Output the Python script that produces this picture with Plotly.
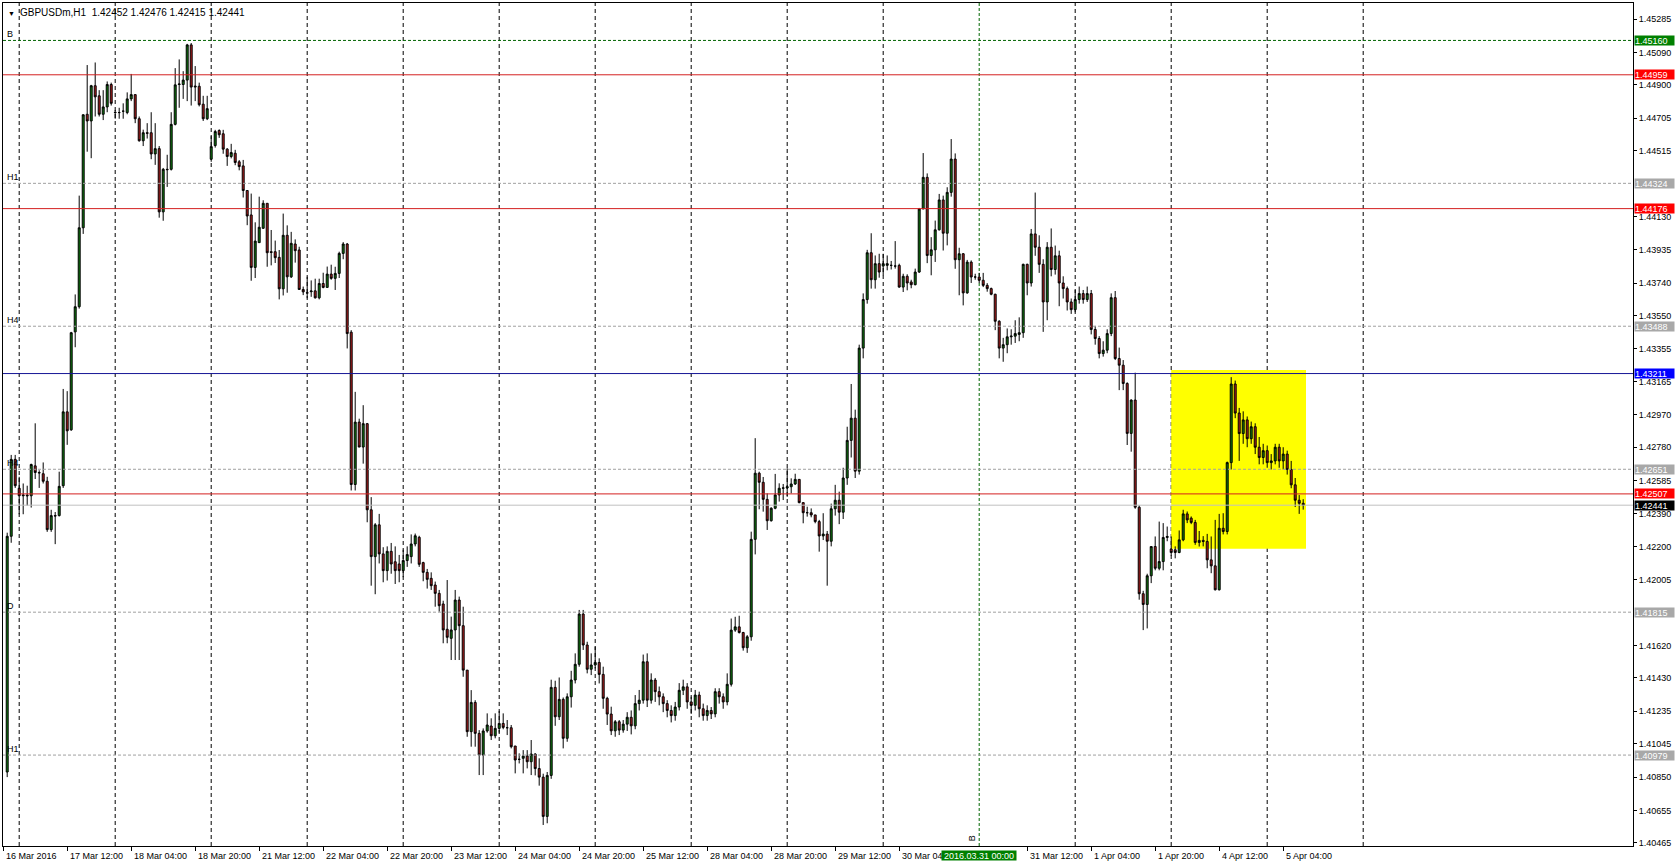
import plotly.graph_objects as go

header_symbol = "GBPUSDm,H1"
header_ohlc = "1.42452 1.42476 1.42415 1.42441"

# ---- hourly OHLC, bar 0 = 16 Mar 2016 21:00 (broker time) ----
opens = [
1.40880, 1.42259, 1.42709, 1.42540, 1.42496, 1.42500, 1.42496, 1.42671, 1.42632, 1.42625,
1.42581, 1.42298, 1.42380, 1.42380, 1.42555, 1.42987, 1.42882, 1.43455, 1.43602, 1.44064,
1.44728, 1.44689, 1.44895, 1.44836, 1.44728, 1.44771, 1.44902, 1.44740, 1.44738, 1.44746,
1.44738, 1.44818, 1.44843, 1.44702, 1.44573, 1.44620, 1.44620, 1.44496, 1.44527, 1.44157,
1.44406, 1.44406, 1.44669, 1.44902, 1.44902, 1.44928, 1.45134, 1.44887, 1.44892, 1.44787,
1.44702, 1.44465, 1.44545, 1.44633, 1.44614, 1.44524, 1.44481, 1.44500, 1.44450, 1.44426,
1.44282, 1.44139, 1.43832, 1.43977, 1.44061, 1.44207, 1.43924, 1.43924, 1.43891, 1.43707,
1.44020, 1.43777, 1.43969, 1.43934, 1.43703, 1.43684, 1.43690, 1.43695, 1.43654, 1.43738,
1.43715, 1.43793, 1.43768, 1.43797, 1.43914, 1.43969, 1.43453, 1.42562, 1.42927, 1.42781,
1.42918, 1.42414, 1.42140, 1.42326, 1.42156, 1.42058, 1.42171, 1.42110, 1.42097, 1.42058,
1.42117, 1.42140, 1.42214, 1.42253, 1.42105, 1.42048, 1.42013, 1.41974, 1.41925, 1.41863,
1.41715, 1.41662, 1.41711, 1.41886, 1.41736, 1.41476, 1.41116, 1.41287, 1.41106, 1.40979,
1.41120, 1.41149, 1.41092, 1.41135, 1.41164, 1.41139, 1.41139, 1.41032, 1.40954, 1.40960,
1.40973, 1.40940, 1.40985, 1.40900, 1.40850, 1.40620, 1.40860, 1.41375, 1.41203, 1.41305,
1.41077, 1.41320, 1.41418, 1.41510, 1.41804, 1.41623, 1.41481, 1.41506, 1.41521, 1.41451,
1.41311, 1.41219, 1.41121, 1.41174, 1.41125, 1.41160, 1.41200, 1.41150, 1.41280, 1.41300,
1.41525, 1.41300, 1.41418, 1.41350, 1.41320, 1.41280, 1.41240, 1.41210, 1.41260, 1.41358,
1.41378, 1.41290, 1.41270, 1.41330, 1.41250, 1.41210, 1.41240, 1.41220, 1.41350, 1.41320,
1.41290, 1.41393, 1.41710, 1.41729, 1.41696, 1.41607, 1.41671, 1.42241, 1.42628, 1.42575,
1.42475, 1.42350, 1.42423, 1.42501, 1.42540, 1.42542, 1.42549, 1.42565, 1.42592, 1.42456,
1.42397, 1.42397, 1.42384, 1.42345, 1.42261, 1.42272, 1.42230, 1.42420, 1.42470, 1.42400,
1.42600, 1.42820, 1.42950, 1.42640, 1.43360, 1.43644, 1.43918, 1.43760, 1.43854, 1.43840,
1.43844, 1.43844, 1.43840, 1.43844, 1.43717, 1.43780, 1.43747, 1.43731, 1.43805, 1.44174,
1.44359, 1.43902, 1.43935, 1.44052, 1.44227, 1.44032, 1.44271, 1.44466, 1.43877, 1.43912,
1.43683, 1.43863, 1.43776, 1.43776, 1.43757, 1.43727, 1.43708, 1.43675, 1.43517, 1.43360,
1.43380, 1.43426, 1.43430, 1.43440, 1.43450, 1.43850, 1.43741, 1.44028, 1.43950, 1.43850,
1.43630, 1.43950, 1.43820, 1.43900, 1.43741, 1.43708, 1.43630, 1.43585, 1.43644, 1.43679,
1.43644, 1.43679, 1.43469, 1.43416, 1.43328, 1.43348, 1.43445, 1.43655, 1.43299, 1.43260,
1.43153, 1.42861, 1.43056, 1.42429, 1.41923, 1.41860, 1.42028, 1.42199, 1.42072, 1.42111,
1.42252, 1.42184, 1.42180, 1.42164, 1.42238, 1.42390, 1.42365, 1.42340, 1.42223, 1.42235,
1.42229, 1.42121, 1.42086, 1.41946, 1.42306, 1.42287, 1.42690, 1.43150, 1.42980, 1.42860,
1.42940, 1.42830, 1.42900, 1.42780, 1.42720, 1.42760, 1.42690, 1.42700, 1.42780, 1.42700,
1.42740, 1.42650, 1.42560, 1.42470, 1.42452,
]

highs = [
1.42280, 1.42735, 1.42735, 1.42607, 1.42568, 1.42555, 1.42684, 1.42920, 1.42645, 1.42691,
1.42607, 1.42414, 1.42401, 1.42637, 1.43121, 1.43108, 1.43455, 1.43674, 1.44252, 1.44728,
1.45016, 1.44900, 1.45031, 1.44869, 1.44869, 1.44920, 1.44913, 1.44753, 1.44766, 1.44792,
1.44856, 1.44964, 1.44843, 1.44715, 1.44638, 1.44676, 1.44740, 1.44676, 1.44542, 1.44414,
1.44491, 1.44740, 1.44998, 1.45049, 1.44980, 1.45140, 1.45145, 1.45010, 1.44913, 1.44836,
1.44836, 1.44600, 1.44637, 1.44640, 1.44637, 1.44530, 1.44555, 1.44520, 1.44460, 1.44461,
1.44282, 1.44264, 1.44096, 1.44246, 1.44225, 1.44207, 1.44051, 1.43989, 1.43934, 1.44147,
1.44078, 1.44040, 1.43996, 1.43953, 1.43720, 1.43777, 1.43756, 1.43766, 1.43766, 1.43801,
1.43837, 1.43848, 1.43836, 1.43924, 1.43980, 1.43975, 1.43465, 1.43104, 1.42947, 1.43026,
1.42922, 1.42488, 1.42336, 1.42390, 1.42195, 1.42200, 1.42220, 1.42200, 1.42150, 1.42180,
1.42200, 1.42270, 1.42275, 1.42262, 1.42110, 1.42068, 1.42048, 1.41994, 1.41945, 1.41882,
1.42003, 1.41789, 1.41945, 1.41906, 1.41847, 1.41476, 1.41359, 1.41300, 1.41125, 1.41135,
1.41223, 1.41194, 1.41223, 1.41237, 1.41223, 1.41184, 1.41155, 1.41032, 1.40989, 1.41008,
1.41008, 1.41067, 1.40990, 1.40960, 1.40870, 1.40880, 1.41420, 1.41414, 1.41433, 1.41316,
1.41340, 1.41472, 1.41574, 1.41828, 1.41828, 1.41642, 1.41574, 1.41613, 1.41545, 1.41496,
1.41320, 1.41262, 1.41184, 1.41184, 1.41184, 1.41230, 1.41240, 1.41330, 1.41360, 1.41567,
1.41574, 1.41457, 1.41430, 1.41380, 1.41340, 1.41300, 1.41270, 1.41290, 1.41400, 1.41420,
1.41400, 1.41320, 1.41360, 1.41350, 1.41280, 1.41270, 1.41260, 1.41370, 1.41370, 1.41340,
1.41457, 1.41778, 1.41788, 1.41794, 1.41700, 1.41681, 1.42286, 1.42833, 1.42637, 1.42606,
1.42510, 1.42429, 1.42624, 1.42569, 1.42565, 1.42657, 1.42598, 1.42625, 1.42592, 1.42456,
1.42432, 1.42422, 1.42384, 1.42355, 1.42394, 1.42290, 1.42450, 1.42560, 1.42520, 1.42660,
1.42900, 1.43150, 1.43000, 1.43380, 1.43680, 1.43935, 1.44032, 1.43902, 1.43912, 1.43912,
1.43902, 1.43870, 1.43986, 1.43854, 1.43795, 1.43792, 1.43760, 1.43825, 1.44180, 1.44501,
1.44382, 1.44009, 1.44106, 1.44262, 1.44252, 1.44301, 1.44583, 1.44499, 1.43947, 1.43916,
1.43876, 1.43873, 1.43795, 1.43800, 1.43800, 1.43740, 1.43714, 1.43678, 1.43523, 1.43420,
1.43475, 1.43470, 1.43523, 1.43540, 1.43854, 1.43854, 1.44057, 1.44270, 1.44020, 1.43880,
1.43980, 1.44060, 1.43960, 1.43930, 1.43780, 1.43720, 1.43650, 1.43700, 1.43720, 1.43700,
1.43720, 1.43700, 1.43490, 1.43430, 1.43400, 1.43470, 1.43680, 1.43694, 1.43363, 1.43290,
1.43160, 1.43060, 1.43216, 1.42440, 1.41940, 1.42040, 1.42199, 1.42258, 1.42345, 1.42336,
1.42316, 1.42258, 1.42200, 1.42293, 1.42414, 1.42404, 1.42375, 1.42355, 1.42290, 1.42260,
1.42273, 1.42258, 1.42355, 1.42390, 1.42394, 1.42696, 1.43190, 1.43170, 1.43010, 1.42990,
1.42960, 1.42930, 1.42920, 1.42840, 1.42800, 1.42790, 1.42740, 1.42800, 1.42800, 1.42780,
1.42760, 1.42700, 1.42600, 1.42500, 1.42476,
]

lows = [
1.40850, 1.42221, 1.42542, 1.42388, 1.42388, 1.42439, 1.42427, 1.42594, 1.42542, 1.42568,
1.42285, 1.42285, 1.42213, 1.42375, 1.42542, 1.42794, 1.42876, 1.43365, 1.43591, 1.44028,
1.44509, 1.44471, 1.44715, 1.44715, 1.44694, 1.44740, 1.44779, 1.44702, 1.44702, 1.44702,
1.44728, 1.44805, 1.44676, 1.44568, 1.44542, 1.44586, 1.44465, 1.44432, 1.44123, 1.44105,
1.44303, 1.44399, 1.44663, 1.44766, 1.44818, 1.44805, 1.44779, 1.44805, 1.44774, 1.44689,
1.44694, 1.44450, 1.44533, 1.44590, 1.44497, 1.44426, 1.44470, 1.44430, 1.44400, 1.44241,
1.44079, 1.43754, 1.43770, 1.43977, 1.44057, 1.43836, 1.43844, 1.43858, 1.43645, 1.43668,
1.43684, 1.43770, 1.43860, 1.43700, 1.43670, 1.43652, 1.43660, 1.43650, 1.43645, 1.43710,
1.43715, 1.43760, 1.43700, 1.43770, 1.43880, 1.43358, 1.42527, 1.42527, 1.42781, 1.42684,
1.42341, 1.41970, 1.41920, 1.42100, 1.41990, 1.42000, 1.42040, 1.41980, 1.41990, 1.42020,
1.42080, 1.42100, 1.42200, 1.42080, 1.41996, 1.41953, 1.41945, 1.41847, 1.41818, 1.41633,
1.41633, 1.41535, 1.41535, 1.41535, 1.41437, 1.41086, 1.41028, 1.41028, 1.40862, 1.40862,
1.41110, 1.41067, 1.41077, 1.41110, 1.41130, 1.41096, 1.41018, 1.40872, 1.40930, 1.40872,
1.40901, 1.40862, 1.40860, 1.40800, 1.40570, 1.40580, 1.40840, 1.41150, 1.41184, 1.41018,
1.41057, 1.41257, 1.41398, 1.41496, 1.41594, 1.41457, 1.41447, 1.41486, 1.41398, 1.41250,
1.41155, 1.41096, 1.41086, 1.41096, 1.41110, 1.41120, 1.41100, 1.41130, 1.41240, 1.41280,
1.41260, 1.41280, 1.41290, 1.41270, 1.41230, 1.41200, 1.41170, 1.41180, 1.41240, 1.41330,
1.41250, 1.41220, 1.41240, 1.41200, 1.41180, 1.41180, 1.41190, 1.41200, 1.41280, 1.41250,
1.41270, 1.41380, 1.41700, 1.41690, 1.41590, 1.41577, 1.41648, 1.42153, 1.42417, 1.42403,
1.42296, 1.42345, 1.42417, 1.42462, 1.42471, 1.42490, 1.42510, 1.42559, 1.42452, 1.42335,
1.42374, 1.42370, 1.42335, 1.42169, 1.42237, 1.41970, 1.42200, 1.42380, 1.42330, 1.42360,
1.42560, 1.42720, 1.42600, 1.42620, 1.43300, 1.43620, 1.43708, 1.43708, 1.43772, 1.43786,
1.43815, 1.43820, 1.43825, 1.43713, 1.43688, 1.43698, 1.43710, 1.43727, 1.43800, 1.44174,
1.43857, 1.43786, 1.43864, 1.44048, 1.43931, 1.43961, 1.44246, 1.43824, 1.43669, 1.43610,
1.43678, 1.43741, 1.43760, 1.43740, 1.43717, 1.43690, 1.43669, 1.43465, 1.43300, 1.43280,
1.43330, 1.43380, 1.43390, 1.43400, 1.43420, 1.43669, 1.43720, 1.43900, 1.43800, 1.43455,
1.43523, 1.43780, 1.43790, 1.43605, 1.43650, 1.43580, 1.43560, 1.43570, 1.43620, 1.43620,
1.43630, 1.43440, 1.43380, 1.43300, 1.43310, 1.43330, 1.43430, 1.43290, 1.43114, 1.43114,
1.42793, 1.42754, 1.42420, 1.41888, 1.41710, 1.41720, 1.41985, 1.42060, 1.42060, 1.42060,
1.42230, 1.42145, 1.42130, 1.42160, 1.42230, 1.42336, 1.42330, 1.42209, 1.42199, 1.42200,
1.42072, 1.42043, 1.41942, 1.41942, 1.42270, 1.42270, 1.42650, 1.42950, 1.42700, 1.42800,
1.42780, 1.42800, 1.42740, 1.42680, 1.42680, 1.42660, 1.42650, 1.42680, 1.42660, 1.42650,
1.42620, 1.42540, 1.42430, 1.42390, 1.42415,
]

closes = [
1.42259, 1.42709, 1.42555, 1.42496, 1.42500, 1.42496, 1.42679, 1.42632, 1.42630, 1.42581,
1.42298, 1.42380, 1.42378, 1.42551, 1.42987, 1.42876, 1.43450, 1.43602, 1.44064, 1.44725,
1.44689, 1.44895, 1.44830, 1.44728, 1.44771, 1.44902, 1.44792, 1.44738, 1.44738, 1.44746,
1.44818, 1.44843, 1.44702, 1.44573, 1.44620, 1.44617, 1.44496, 1.44527, 1.44157, 1.44406,
1.44404, 1.44669, 1.44900, 1.44905, 1.44928, 1.45134, 1.44887, 1.44892, 1.44784, 1.44702,
1.44761, 1.44539, 1.44627, 1.44608, 1.44524, 1.44481, 1.44504, 1.44446, 1.44422, 1.44282,
1.44133, 1.43832, 1.43986, 1.44067, 1.44207, 1.43918, 1.43920, 1.43889, 1.43707, 1.44020,
1.43777, 1.43973, 1.43930, 1.43703, 1.43689, 1.43682, 1.43694, 1.43654, 1.43738, 1.43715,
1.43793, 1.43768, 1.43797, 1.43914, 1.43969, 1.43445, 1.42562, 1.42927, 1.42781, 1.42918,
1.42414, 1.42140, 1.42326, 1.42156, 1.42058, 1.42171, 1.42097, 1.42058, 1.42058, 1.42117,
1.42152, 1.42214, 1.42262, 1.42095, 1.42048, 1.42007, 1.41970, 1.41925, 1.41853, 1.41711,
1.41668, 1.41711, 1.41886, 1.41736, 1.41476, 1.41116, 1.41287, 1.41106, 1.40979, 1.41120,
1.41155, 1.41092, 1.41135, 1.41164, 1.41141, 1.41139, 1.41028, 1.40950, 1.40954, 1.40973,
1.40940, 1.40985, 1.40900, 1.40850, 1.40620, 1.40860, 1.41375, 1.41203, 1.41305, 1.41077,
1.41320, 1.41418, 1.41510, 1.41804, 1.41623, 1.41481, 1.41506, 1.41521, 1.41451, 1.41311,
1.41219, 1.41121, 1.41174, 1.41125, 1.41160, 1.41200, 1.41150, 1.41280, 1.41300, 1.41525,
1.41300, 1.41418, 1.41350, 1.41320, 1.41280, 1.41240, 1.41210, 1.41260, 1.41358, 1.41378,
1.41290, 1.41270, 1.41330, 1.41250, 1.41210, 1.41240, 1.41220, 1.41350, 1.41320, 1.41290,
1.41393, 1.41710, 1.41729, 1.41696, 1.41607, 1.41671, 1.42241, 1.42628, 1.42575, 1.42475,
1.42350, 1.42423, 1.42501, 1.42540, 1.42542, 1.42549, 1.42565, 1.42592, 1.42456, 1.42397,
1.42397, 1.42384, 1.42345, 1.42261, 1.42272, 1.42230, 1.42420, 1.42470, 1.42400, 1.42600,
1.42820, 1.42950, 1.42640, 1.43360, 1.43644, 1.43918, 1.43760, 1.43854, 1.43805, 1.43854,
1.43854, 1.43844, 1.43840, 1.43717, 1.43780, 1.43741, 1.43731, 1.43805, 1.44174, 1.44359,
1.43902, 1.43935, 1.44052, 1.44227, 1.44032, 1.44271, 1.44466, 1.43877, 1.43912, 1.43683,
1.43863, 1.43776, 1.43776, 1.43757, 1.43727, 1.43708, 1.43675, 1.43517, 1.43360, 1.43380,
1.43426, 1.43430, 1.43445, 1.43450, 1.43850, 1.43741, 1.44028, 1.43950, 1.43850, 1.43630,
1.43950, 1.43820, 1.43900, 1.43741, 1.43708, 1.43630, 1.43585, 1.43644, 1.43679, 1.43644,
1.43679, 1.43469, 1.43416, 1.43328, 1.43348, 1.43445, 1.43655, 1.43299, 1.43260, 1.43153,
1.42861, 1.43056, 1.42429, 1.41923, 1.41860, 1.42028, 1.42199, 1.42072, 1.42111, 1.42252,
1.42258, 1.42164, 1.42164, 1.42238, 1.42390, 1.42355, 1.42340, 1.42223, 1.42235, 1.42229,
1.42121, 1.42086, 1.41946, 1.42306, 1.42287, 1.42690, 1.43150, 1.42980, 1.42860, 1.42940,
1.42830, 1.42900, 1.42780, 1.42720, 1.42760, 1.42690, 1.42700, 1.42780, 1.42700, 1.42740,
1.42650, 1.42560, 1.42470, 1.42452, 1.42441,
]

assert len(opens) == len(highs) == len(lows) == len(closes), (len(opens), len(highs), len(lows), len(closes))
bar_index = list(range(len(opens)))

# ---- time scale ----
time_tick_bars = [-1, 15, 31, 47, 63, 79, 95, 111, 127, 143, 159, 175, 191, 207, 223,
                  255, 271, 287, 303, 319]
time_tick_labels = ["16 Mar 2016", "17 Mar 12:00", "18 Mar 04:00", "18 Mar 20:00",
                    "21 Mar 12:00", "22 Mar 04:00", "22 Mar 20:00", "23 Mar 12:00",
                    "24 Mar 04:00", "24 Mar 20:00", "25 Mar 12:00", "28 Mar 04:00",
                    "28 Mar 20:00", "29 Mar 12:00", "30 Mar 04", "31 Mar 12:00",
                    "1 Apr 04:00", "1 Apr 20:00", "4 Apr 12:00", "5 Apr 04:00"]
day_separator_bars = [3, 27, 51, 75, 99, 123, 147, 171, 195, 219, 267, 291, 315, 339]
marked_bar = 243
marked_label = "2016.03.31 00:00"

# ---- price scale ----
price_ticks = [1.45285, 1.45090, 1.44900, 1.44705, 1.44515, 1.44130, 1.43935, 1.43740,
               1.43550, 1.43355, 1.43165, 1.42970, 1.42780, 1.42585, 1.42390, 1.42200,
               1.42005, 1.41620, 1.41430, 1.41235, 1.41045, 1.40850, 1.40655, 1.40465]

# ---- horizontal levels ----
level_prices = [1.45160, 1.44959, 1.44324, 1.44176, 1.43488, 1.43211, 1.42651, 1.42507,
                1.42441, 1.41815, 1.40979]
level_names = ["B", "", "H1", "", "H4", "", "H4", "", "", "D", "H1"]
level_line_colors = ["#006400", "#D42020", "#A0A0A0", "#D42020", "#A0A0A0", "#161696",
                     "#A0A0A0", "#D42020", "#C0C0C0", "#A0A0A0", "#A0A0A0"]
level_dashes = ["3px,2px", "solid", "3px,2px", "solid", "3px,2px", "solid", "3px,2px",
                "solid", "solid", "3px,2px", "3px,2px"]
level_box_colors = ["#008000", "#FF0000", "#A8A8A8", "#FF0000", "#A8A8A8", "#0000FF",
                    "#A8A8A8", "#FF0000", "#000000", "#A8A8A8", "#A8A8A8"]

# ---- highlighted zone ----
zone_bars = [291, 324.7]
zone_prices = [1.42186, 1.43232]

FONT = "Liberation Sans, Arial, sans-serif"

fig = go.Figure()
fig.add_trace(go.Candlestick(
    x=bar_index, open=opens, high=highs, low=lows, close=closes,
    increasing=dict(line=dict(color="#000000", width=1), fillcolor="#0E7A0E"),
    decreasing=dict(line=dict(color="#000000", width=1), fillcolor="#B21E1E"),
    whiskerwidth=0, hoverinfo="skip", showlegend=False,
))

shapes = []
shapes.append(dict(type="rect", xref="x", yref="y", x0=zone_bars[0], x1=zone_bars[1],
                   y0=zone_prices[0], y1=zone_prices[1], fillcolor="#FFFF00",
                   line=dict(width=0), layer="below"))
for b in day_separator_bars:
    shapes.append(dict(type="line", xref="x", yref="paper", x0=b, x1=b, y0=0, y1=1,
                       line=dict(color="#000000", width=1, dash="4px,3px"), layer="below"))
shapes.append(dict(type="line", xref="x", yref="paper", x0=marked_bar, x1=marked_bar, y0=0, y1=1,
                   line=dict(color="#006400", width=1, dash="3px,2px"), layer="below"))
for p, c, d in zip(level_prices, level_line_colors, level_dashes):
    shapes.append(dict(type="line", xref="paper", yref="y", x0=0, x1=1, y0=p, y1=p,
                       line=dict(color=c, width=1, dash=d), layer="above"))

ann = []
# header
ann.append(dict(xref="paper", yref="paper", x=0, y=1, xanchor="left", yanchor="top",
                xshift=3, yshift=-5, text="▼", showarrow=False,
                font=dict(family=FONT, size=7, color="#000000")))
ann.append(dict(xref="paper", yref="paper", x=0, y=1, xanchor="left", yanchor="top",
                xshift=15, yshift=-2, text=header_symbol + "  " + header_ohlc, showarrow=False,
                font=dict(family=FONT, size=10, color="#000000")))
# level names (left) and price boxes (right)
for p, n, bc in zip(level_prices, level_names, level_box_colors):
    if n:
        ann.append(dict(xref="paper", yref="y", x=0, y=p, xanchor="left", yanchor="bottom",
                        xshift=2, yshift=-1, text=n, showarrow=False,
                        font=dict(family=FONT, size=9, color="#000000")))
    ann.append(dict(xref="paper", yref="y", x=1, y=p, xanchor="left", yanchor="middle",
                    xshift=1, text=f"{p:.5f}", showarrow=False, bgcolor=bc,
                    width=39, height=9, align="left", borderpad=0,
                    font=dict(family=FONT, size=9, color="#FFFFFF")))
# time labels
for b, t in zip(time_tick_bars, time_tick_labels):
    ann.append(dict(xref="x", yref="paper", x=b, y=0, xanchor="left", yanchor="top",
                    xshift=1, yshift=-3, text=t, showarrow=False,
                    font=dict(family=FONT, size=9, color="#000000")))
ann.append(dict(xref="x", yref="paper", x=marked_bar, y=0, xanchor="center", yanchor="top",
                yshift=-4, text=marked_label, showarrow=False, bgcolor="#008000",
                width=74, height=9, borderpad=0,
                font=dict(family=FONT, size=9, color="#FFFFFF")))
ann.append(dict(xref="x", yref="paper", x=marked_bar, y=0, xanchor="center", yanchor="bottom",
                xshift=-7, yshift=3, text="B", textangle=-90, showarrow=False,
                font=dict(family=FONT, size=9, color="#000000")))

fig.update_layout(
    width=1676, height=867,
    margin=dict(l=3, r=43, t=3, b=21, pad=0),
    paper_bgcolor="#FFFFFF", plot_bgcolor="#FFFFFF",
    showlegend=False,
    shapes=shapes, annotations=ann,
    xaxis=dict(range=[-1.05, 406.45], rangeslider=dict(visible=False), showgrid=False,
               zeroline=False, showline=True, linecolor="#000000", linewidth=1, mirror=True,
               tickmode="array", tickvals=time_tick_bars, ticks="outside", ticklen=4,
               tickcolor="#000000", showticklabels=False, fixedrange=True),
    yaxis=dict(range=[1.40447, 1.45379], side="right", showgrid=False, zeroline=False,
               showline=True, linecolor="#000000", linewidth=1, mirror=True,
               tickmode="array", tickvals=price_ticks,
               ticktext=[f"{v:.5f}" for v in price_ticks], ticks="outside", ticklen=3,
               tickcolor="#000000", tickfont=dict(family=FONT, size=9, color="#000000"),
               fixedrange=True),
)

fig.write_html("out.html", config={"displayModeBar": False},
               post_script="document.body.style.margin='0';document.body.style.overflow='hidden';")
